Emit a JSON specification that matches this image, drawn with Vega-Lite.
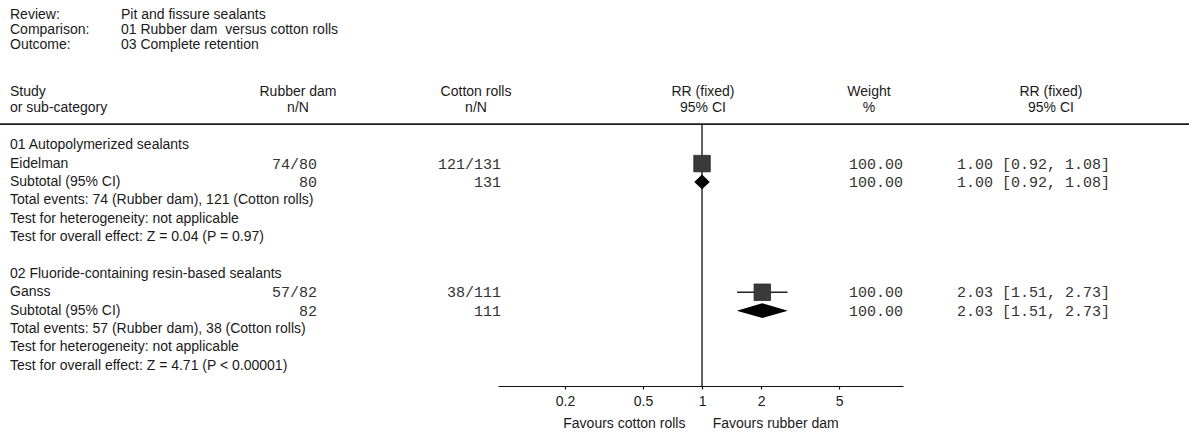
{
  "$schema": "https://vega.github.io/schema/vega-lite/v6.json",
  "width": 1189,
  "height": 386,
  "autosize": "none",
  "padding": {"left": 0, "top": 0, "right": 0, "bottom": 46},
  "background": "white",
  "config": {"view": {"stroke": null}},
  "datasets": {
    "cells": [
      {"row": -7.08, "col": 0, "k": "sl", "t": "Review:"},
      {"row": -7.08, "col": 1, "k": "sl", "t": "Pit and fissure sealants"},
      {"row": -6.27, "col": 0, "k": "sl", "t": "Comparison:"},
      {"row": -6.27, "col": 1, "k": "sl", "t": "01 Rubber dam \u00a0versus cotton rolls"},
      {"row": -5.45, "col": 0, "k": "sl", "t": "Outcome:"},
      {"row": -5.45, "col": 1, "k": "sl", "t": "03 Complete retention"},
      {"row": -2.89, "col": 0, "k": "sl", "t": "Study"},
      {"row": -2.02, "col": 0, "k": "sl", "t": "or sub-category"},
      {"row": -2.89, "col": 2, "k": "sc", "t": "Rubber dam"},
      {"row": -2.02, "col": 2, "k": "sc", "t": "n/N"},
      {"row": -2.89, "col": 4, "k": "sc", "t": "Cotton rolls"},
      {"row": -2.02, "col": 4, "k": "sc", "t": "n/N"},
      {"row": -2.89, "col": 6, "k": "sc", "t": "RR (fixed)"},
      {"row": -2.02, "col": 6, "k": "sc", "t": "95% CI"},
      {"row": -2.89, "col": 7, "k": "sc", "t": "Weight"},
      {"row": -2.02, "col": 7, "k": "sc", "t": "%"},
      {"row": -2.89, "col": 10, "k": "sc", "t": "RR (fixed)"},
      {"row": -2.02, "col": 10, "k": "sc", "t": "95% CI"},
      {"row": 0, "col": 0, "k": "sl", "t": "01 Autopolymerized sealants"},
      {"row": 1, "col": 0, "k": "sl", "t": "\u00a0Eidelman"},
      {"row": 1, "col": 3, "k": "mr", "t": "74/80"},
      {"row": 1, "col": 5, "k": "mr", "t": "121/131"},
      {"row": 1, "col": 8, "k": "mr", "t": "100.00"},
      {"row": 1, "col": 9, "k": "ml", "t": "1.00 [0.92, 1.08]"},
      {"row": 2, "col": 0, "k": "sl", "t": "Subtotal (95% CI)"},
      {"row": 2, "col": 3, "k": "mr", "t": "80"},
      {"row": 2, "col": 5, "k": "mr", "t": "131"},
      {"row": 2, "col": 8, "k": "mr", "t": "100.00"},
      {"row": 2, "col": 9, "k": "ml", "t": "1.00 [0.92, 1.08]"},
      {"row": 3, "col": 0, "k": "sl", "t": "Total events: 74 (Rubber dam), 121 (Cotton rolls)"},
      {"row": 4, "col": 0, "k": "sl", "t": "Test for heterogeneity: not applicable"},
      {"row": 5, "col": 0, "k": "sl", "t": "Test for overall effect: Z = 0.04 (P = 0.97)"},
      {"row": 7, "col": 0, "k": "sl", "t": "02 Fluoride-containing resin-based sealants"},
      {"row": 8, "col": 0, "k": "sl", "t": "\u00a0Ganss"},
      {"row": 8, "col": 3, "k": "mr", "t": "57/82"},
      {"row": 8, "col": 5, "k": "mr", "t": "38/111"},
      {"row": 8, "col": 8, "k": "mr", "t": "100.00"},
      {"row": 8, "col": 9, "k": "ml", "t": "2.03 [1.51, 2.73]"},
      {"row": 9, "col": 0, "k": "sl", "t": "Subtotal (95% CI)"},
      {"row": 9, "col": 3, "k": "mr", "t": "82"},
      {"row": 9, "col": 5, "k": "mr", "t": "111"},
      {"row": 9, "col": 8, "k": "mr", "t": "100.00"},
      {"row": 9, "col": 9, "k": "ml", "t": "2.03 [1.51, 2.73]"},
      {"row": 10, "col": 0, "k": "sl", "t": "Total events: 57 (Rubber dam), 38 (Cotton rolls)"},
      {"row": 11, "col": 0, "k": "sl", "t": "Test for heterogeneity: not applicable"},
      {"row": 12, "col": 0, "k": "sl", "t": "Test for overall effect: Z = 4.71 (P < 0.00001)"}
    ],
    "studies": [
      {"study": "Eidelman", "row": 1, "rr": 1.00, "lo": 0.92, "hi": 1.08, "weight": 100},
      {"study": "Ganss", "row": 8, "rr": 2.03, "lo": 1.51, "hi": 2.73, "weight": 100}
    ],
    "subtotals": [
      {"group": "01 Autopolymerized sealants", "row": 2, "rr": 1.00, "lo": 0.92, "hi": 1.08},
      {"group": "02 Fluoride-containing resin-based sealants", "row": 9, "rr": 2.03, "lo": 1.51, "hi": 2.73}
    ]
  },
  "layer": [
    {
      "layer": [
        {
          "data": {"values": [{"ref": 1}]},
          "mark": {"type": "rule", "color": "#1a1a1a", "strokeWidth": 1.8},
          "encoding": {
            "y": {"datum": -1.15, "type": "quantitative", "scale": {"domain": [-7.9, 13.1], "reverse": true, "zero": false, "nice": false}, "axis": null}
          }
        },
        {
          "data": {"values": [{"ref": 1}]},
          "mark": {"type": "rule", "color": "#111", "strokeWidth": 1.3},
          "encoding": {
            "x": {
              "field": "ref", "type": "quantitative",
              "scale": {"type": "log", "domain": [0.091, 10.6], "range": [498, 903], "nice": false, "zero": false},
              "axis": {
                "values": [0.2, 0.5, 1, 2, 5],
                "format": "~g",
                "grid": false,
                "domainColor": "#111",
                "domainWidth": 1.2,
                "tickColor": "#111",
                "tickWidth": 1.2,
                "tickSize": 3,
                "labelPadding": 5,
                "labelFont": "Liberation Sans",
                "labelFontSize": 14,
                "labelColor": "#1a1a1a",
                "labelFlush": false,
                "title": "Favours cotton rolls\u00a0\u00a0\u00a0\u00a0\u00a0\u00a0\u00a0Favours rubber dam",
                "titleFont": "Liberation Sans",
                "titleFontSize": 14,
                "titleFontWeight": "normal",
                "titleColor": "#1a1a1a",
                "titlePadding": 8
              }
            },
            "y": {"datum": -1.15, "type": "quantitative", "scale": {"domain": [-7.9, 13.1], "reverse": true, "zero": false, "nice": false}, "axis": null},
            "y2": {"datum": 13.1}
          }
        },
        {
          "data": {"name": "studies"},
          "mark": {"type": "rule", "color": "#222", "strokeWidth": 1.3},
          "encoding": {
            "x": {"field": "lo", "type": "quantitative", "scale": {"type": "log", "domain": [0.091, 10.6], "range": [498, 903], "nice": false, "zero": false}},
            "x2": {"field": "hi"},
            "y": {"field": "row", "type": "quantitative", "scale": {"domain": [-7.9, 13.1], "reverse": true, "zero": false, "nice": false}, "axis": null}
          }
        },
        {
          "data": {"name": "studies"},
          "mark": {"type": "point", "shape": "square", "filled": true, "size": 272, "color": "#3a3a3a", "opacity": 1, "stroke": "#2a2a2a", "strokeWidth": 0.8},
          "encoding": {
            "x": {"field": "rr", "type": "quantitative", "scale": {"type": "log", "domain": [0.091, 10.6], "range": [498, 903], "nice": false, "zero": false}},
            "y": {"field": "row", "type": "quantitative", "scale": {"domain": [-7.9, 13.1], "reverse": true, "zero": false, "nice": false}, "axis": null}
          }
        },
        {
          "data": {"name": "subtotals"},
          "transform": [{"filter": "datum.row === 2"}],
          "mark": {"type": "point", "shape": "M-1,0L0,-0.95L1,0L0,0.95Z", "filled": true, "size": 240, "color": "#000", "opacity": 1},
          "encoding": {
            "x": {"field": "rr", "type": "quantitative", "scale": {"type": "log", "domain": [0.091, 10.6], "range": [498, 903], "nice": false, "zero": false}},
            "y": {"field": "row", "type": "quantitative", "scale": {"domain": [-7.9, 13.1], "reverse": true, "zero": false, "nice": false}, "axis": null}
          }
        },
        {
          "data": {"name": "subtotals"},
          "transform": [{"filter": "datum.row === 9"}],
          "mark": {"type": "point", "shape": "M-1,0L0,-0.29L1,0L0,0.29Z", "filled": true, "size": 2601, "color": "#000", "opacity": 1},
          "encoding": {
            "x": {"field": "rr", "type": "quantitative", "scale": {"type": "log", "domain": [0.091, 10.6], "range": [498, 903], "nice": false, "zero": false}},
            "y": {"field": "row", "type": "quantitative", "scale": {"domain": [-7.9, 13.1], "reverse": true, "zero": false, "nice": false}, "axis": null}
          }
        }
      ]
    },
    {
      "data": {"name": "cells"},
      "layer": [
        {
          "transform": [{"filter": "datum.k === 'sl'"}],
          "mark": {"type": "text", "align": "left", "baseline": "middle", "font": "Liberation Sans", "fontSize": 14, "color": "#1a1a1a"},
          "encoding": {
            "x": {"field": "col", "type": "quantitative", "scale": {"type": "linear", "domain": [0, 1, 2, 3, 4, 5, 6, 7, 8, 9, 10], "range": [10, 121, 298, 317, 476, 501, 703, 869, 903, 957, 1051], "zero": false, "nice": false}, "axis": null},
            "y": {"field": "row", "type": "quantitative", "scale": {"domain": [-7.9, 13.1], "reverse": true, "zero": false, "nice": false}, "axis": null},
            "text": {"field": "t"}
          }
        },
        {
          "transform": [{"filter": "datum.k === 'sc'"}],
          "mark": {"type": "text", "align": "center", "baseline": "middle", "font": "Liberation Sans", "fontSize": 14, "color": "#1a1a1a"},
          "encoding": {
            "x": {"field": "col", "type": "quantitative", "scale": {"type": "linear", "domain": [0, 1, 2, 3, 4, 5, 6, 7, 8, 9, 10], "range": [10, 121, 298, 317, 476, 501, 703, 869, 903, 957, 1051], "zero": false, "nice": false}, "axis": null},
            "y": {"field": "row", "type": "quantitative", "scale": {"domain": [-7.9, 13.1], "reverse": true, "zero": false, "nice": false}, "axis": null},
            "text": {"field": "t"}
          }
        },
        {
          "transform": [{"filter": "datum.k === 'mr'"}],
          "mark": {"type": "text", "align": "right", "baseline": "middle", "font": "Liberation Mono", "fontSize": 15, "color": "#333"},
          "encoding": {
            "x": {"field": "col", "type": "quantitative", "scale": {"type": "linear", "domain": [0, 1, 2, 3, 4, 5, 6, 7, 8, 9, 10], "range": [10, 121, 298, 317, 476, 501, 703, 869, 903, 957, 1051], "zero": false, "nice": false}, "axis": null},
            "y": {"field": "row", "type": "quantitative", "scale": {"domain": [-7.9, 13.1], "reverse": true, "zero": false, "nice": false}, "axis": null},
            "text": {"field": "t"}
          }
        },
        {
          "transform": [{"filter": "datum.k === 'ml'"}],
          "mark": {"type": "text", "align": "left", "baseline": "middle", "font": "Liberation Mono", "fontSize": 15, "color": "#333"},
          "encoding": {
            "x": {"field": "col", "type": "quantitative", "scale": {"type": "linear", "domain": [0, 1, 2, 3, 4, 5, 6, 7, 8, 9, 10], "range": [10, 121, 298, 317, 476, 501, 703, 869, 903, 957, 1051], "zero": false, "nice": false}, "axis": null},
            "y": {"field": "row", "type": "quantitative", "scale": {"domain": [-7.9, 13.1], "reverse": true, "zero": false, "nice": false}, "axis": null},
            "text": {"field": "t"}
          }
        }
      ]
    }
  ],
  "resolve": {"scale": {"x": "independent"}, "axis": {"x": "independent"}}
}
